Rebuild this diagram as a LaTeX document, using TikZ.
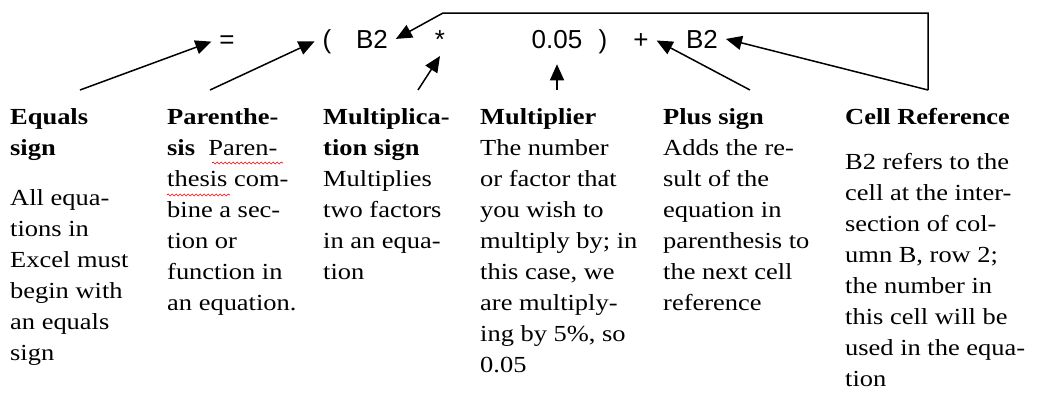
\documentclass[tikz,border=0pt]{standalone}
\usepackage{fontspec}
\setmainfont{Liberation Serif}[FakeStretch=1.15]
\newfontfamily\formulafont{Liberation Sans}
\usetikzlibrary{arrows.meta, decorations.pathmorphing}

\begin{document}
\begin{tikzpicture}[x=1pt, y=-1pt,
    % Define the style for the parts of the formula
    token/.style={font=\formulafont\fontsize{26}{30}\selectfont, inner sep=0pt, outer sep=8pt, anchor=base},
    % Define the style for the text columns
    desc/.style={font=\fontsize{23}{31}\selectfont, inner sep=0pt, anchor=north west, align=left},
    % Define the style for the arrows
    pointer/.style={line width=1.5pt, -{Triangle[length=16pt, width=14pt]}},
    squiggle/.style={red, line width=0.6pt, decorate, decoration={snake, amplitude=1pt, segment length=4pt}}
]
\useasboundingbox (0,0) rectangle (1037,400);

% Define the parts of the formula
\node[token] (eq) at (227,48) {=};
\node[token] (lparen) at (327,48) {(};
\node[token] (refa) at (372,48) {B2};
\node[token] (ast) at (440,48) {*};
\node[token] (num) at (557,48) {0.05};
\node[token] (rparen) at (603,48) {)};
\node[token] (plus) at (641,48) {+};
\node[token] (refb) at (702,48) {B2};

% Add the text columns
\node[desc] (eqdesc) at (10,108) {\textbf{Equals}\\\textbf{sign}\\[19pt]
    All equa-\\tions in\\Excel must\\begin with\\an equals\\sign};
\node[desc] (parendesc) at (167,108) {\textbf{Parenthe-}\\\textbf{sis}\ \ Paren-\\
    thesis com-\\bine a sec-\\tion or\\function in\\an equation.};
\node[desc] (multdesc) at (323,108) {\textbf{Multiplica-}\\\textbf{tion sign}\\
    Multiplies\\two factors\\in an equa-\\tion};
\node[desc] (numdesc) at (480,108) {\textbf{Multiplier}\\The number\\or factor that\\
    you wish to\\multiply by; in\\this case, we\\are multiply-\\ing by 5\%, so\\0.05};
\node[desc] (plusdesc) at (663,108) {\textbf{Plus sign}\\Adds the re-\\sult of the\\
    equation in\\parenthesis to\\the next cell\\reference};
\node[desc] (refdesc) at (845,108) {\textbf{Cell Reference}\\[14pt]
    B2 refers to the\\cell at the inter-\\section of col-\\umn B, row 2;\\
    the number in\\this cell will be\\used in the equa-\\tion};

% Spelling marks
\draw[squiggle] (212,163) -- (283,163);
\draw[squiggle] (167,195) -- (230,195);

% Define the arrow tails
\coordinate (eqtail) at (80,90);
\coordinate (parentail) at (210,90);
\coordinate (asttail) at (418,90);
\coordinate (numtail) at (557,90);
\coordinate (plustail) at (750,90);
\coordinate (reftail) at (928,90);
\coordinate (refcorner) at (443,13);

% Draw the arrows
\draw[pointer] (eqtail) -- (eq.west);
\draw[pointer] (parentail) -- (lparen.west);
\draw[pointer] (asttail) -- (ast.south);
\draw[pointer, shorten >=8pt] (numtail) -- (num.south);
\draw[pointer] (plustail) -- (plus.east);
\draw[pointer] (reftail) -- (refb.east);
\draw[pointer] (reftail) |- (refcorner) -- (refa.east);

\end{tikzpicture}
\end{document}
